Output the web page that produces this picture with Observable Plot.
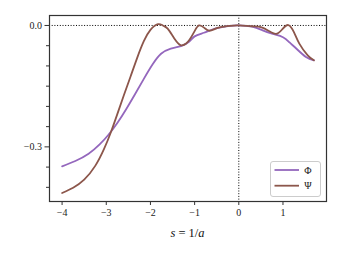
<!DOCTYPE html>
<html><head><meta charset="utf-8">
<script src="https://cdn.jsdelivr.net/npm/d3@7"></script>
<script src="https://cdn.jsdelivr.net/npm/@observablehq/plot@0.6"></script>
<style>body{margin:0;background:#fff;} #chart svg{display:block;}</style>
</head><body><div id="chart"></div>
<script>
const phiS = [-4, -3.7, -3.4, -3.15, -2.95, -2.75, -2.55, -2.35, -2.15, -1.95, -1.76, -1.54, -1.31, -1.12, -1.0, -0.79, -0.6, -0.41, -0.2, 0, 0.3, 0.54, 0.77, 1.0, 1.15, 1.3, 1.52, 1.7];
const phiV = [-0.348, -0.335, -0.317, -0.294, -0.270, -0.241, -0.207, -0.170, -0.132, -0.096, -0.070, -0.057, -0.051, -0.040, -0.027, -0.018, -0.010, -0.005, -0.001, 0, -0.003, -0.012, -0.021, -0.029, -0.042, -0.057, -0.078, -0.086];
const psiS = [-4, -3.75, -3.5, -3.25, -3.05, -2.9, -2.75, -2.6, -2.45, -2.3, -2.15, -2.0, -1.83, -1.72, -1.61, -1.46, -1.31, -1.2, -1.12, -1.0, -0.9, -0.78, -0.67, -0.55, -0.41, -0.2, 0, 0.3, 0.5, 0.67, 0.84, 0.98, 1.12, 1.25, 1.37, 1.56, 1.7];
const psiV = [-0.414, -0.401, -0.381, -0.347, -0.305, -0.265, -0.219, -0.172, -0.126, -0.080, -0.039, -0.011, 0.003, 0.0, -0.008, -0.032, -0.049, -0.045, -0.036, -0.014, 0.0, -0.006, -0.013, -0.009, -0.004, -0.001, 0, -0.002, -0.004, -0.013, -0.021, -0.010, 0.001, -0.017, -0.045, -0.074, -0.086];
const seriesNames = ["Φ", "Ψ"];
const seriesColors = ["#9467bd", "#8c564b"];
const xTicks = [-4, -3, -2, -1, 0, 1];
const xTickLabels = ["−4", "−3", "−2", "−1", "0", "1"];
const yTicks = [0, -0.3];
const yTickLabels = ["0.0", "−0.3"];
const yMinor = [-0.05, -0.1, -0.15, -0.2, -0.25, -0.35, -0.4];

const phi = phiS.map((s, i) => ({s, v: phiV[i]}));
const psi = psiS.map((s, i) => ({s, v: psiV[i]}));
const font = "'Liberation Serif', 'DejaVu Serif', serif";
const ink = "#333";

const plot = Plot.plot({
  width: 341, height: 256,
  marginLeft: 49, marginRight: 15, marginTop: 15, marginBottom: 55,
  style: {fontFamily: font, fontSize: "10px", background: "#fff", color: "#222"},
  x: {domain: [-4.285, 1.985]},
  y: {domain: [-0.435, 0.0246]},
  marks: [
    Plot.ruleY([0], {stroke: "#000", strokeWidth: 1, strokeDasharray: "1,1.7"}),
    Plot.ruleX([0], {stroke: "#000", strokeWidth: 1, strokeDasharray: "1,1.7"}),
    Plot.line(phi, {x: "s", y: "v", stroke: seriesColors[0], strokeWidth: 1.8, curve: "natural"}),
    Plot.line(psi, {x: "s", y: "v", stroke: seriesColors[1], strokeWidth: 1.8, curve: "natural"}),
    Plot.frame({stroke: ink, strokeWidth: 1.2}),
    Plot.axisX({ticks: xTicks, tickFormat: (d) => xTickLabels[xTicks.indexOf(d)], tickSize: 4, tickPadding: 3, stroke: ink, label: null, fontSize: 10}),
    Plot.axisY({ticks: yTicks, tickFormat: (d) => yTickLabels[yTicks.indexOf(d)], tickSize: 4.5, tickPadding: 3, stroke: ink, label: null, fontSize: 10}),
    Plot.axisY({ticks: yMinor, tickFormat: () => "", tickSize: 3, stroke: ink, label: null})
  ]
});
document.getElementById("chart").appendChild(plot);

const svg = d3.select(plot);
// x-axis label: s = 1/a (s and a italic)
const lab = svg.append("text").attr("x", 187.5).attr("y", 237).attr("text-anchor", "middle")
  .attr("font-family", font).attr("font-size", 12.5).attr("fill", "#111");
lab.append("tspan").attr("font-style", "italic").text("s");
lab.append("tspan").text(" = 1/");
lab.append("tspan").attr("font-style", "italic").text("a");

// legend (matplotlib-style box, lower right)
const g = svg.append("g").attr("font-family", font);
g.append("rect").attr("x", 270.5).attr("y", 161.5).attr("width", 50).attr("height", 35)
  .attr("rx", 2.5).attr("fill", "#fff").attr("fill-opacity", 0.85).attr("stroke", "#ccc").attr("stroke-width", 1);
seriesNames.forEach((name, i) => {
  const yy = 170 + i * 15.7;
  g.append("line").attr("x1", 274.5).attr("x2", 299).attr("y1", yy).attr("y2", yy)
    .attr("stroke", seriesColors[i]).attr("stroke-width", 1.8);
  g.append("text").attr("x", 308).attr("y", yy).attr("dy", "0.35em").attr("font-size", 10).attr("fill", "#222").text(name);
});
</script></body></html>
